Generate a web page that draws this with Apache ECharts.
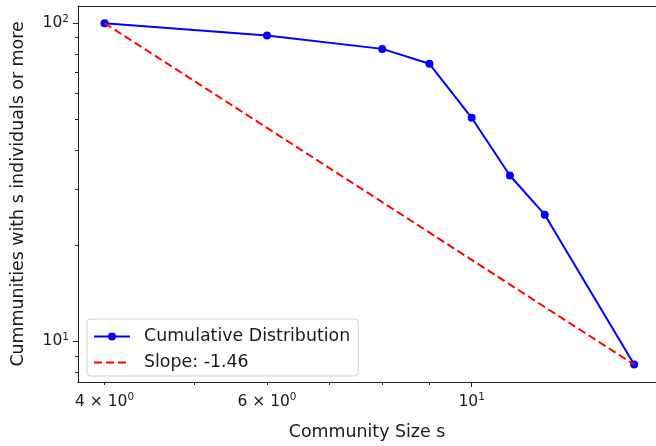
<!DOCTYPE html>
<html><head><meta charset="utf-8">
<script src="https://cdn.jsdelivr.net/npm/echarts@6/dist/echarts.min.js"></script>
<style>html,body{margin:0;padding:0;background:#fff}#c{width:656px;height:446px}</style>
</head><body><div id="c"></div>
<script>
const sizes = [4, 6, 8, 9, 10, 11, 12, 15];
const counts = [100, 91.5, 83, 74.5, 50.4, 33.2, 25, 8.45];
const slopeX = [4, 15];
const slopeY = [100, 8.45];
const xRange = [3.744, 15.84];
const yRange = [7.45, 113.2];
const xLabelTicks = [4, 6, 10];
const xLabelTexts = ['4 × 10{s|0}', '6 × 10{s|0}', '10{s|1}'];
const xMajorTicks = [10];
const xMinorTicks = [4, 5, 6, 7, 8, 9];
const yMajorTicks = [10, 100];
const yLabelTexts = ['10{s|1}', '10{s|2}'];
const yMinorTicks = [8, 9, 20, 30, 40, 50, 60, 70, 80, 90];

const L = Math.log10;
const TXT = '#1a1a1a';
const FONT = 'DejaVu Sans';
const rich = { s: { fontSize: 10.5, fontFamily: FONT, color: TXT, padding: [0, 0, 8, 0] } };
const labelFor = (vals, texts) => v => {
  for (let i = 0; i < vals.length; i++) if (Math.abs(L(vals[i]) - v) < 1e-6) return texts[i];
  return '';
};
const spine = { show: true, lineStyle: { color: '#222', width: 1 } };

const chart = echarts.init(document.getElementById('c'), null, { renderer: 'canvas' });
chart.setOption({
  animation: false,
  backgroundColor: '#fff',
  grid: { left: 78, top: 6, right: 0, bottom: 63 },
  xAxis: [
    {
      type: 'value', min: L(xRange[0]), max: L(xRange[1]), position: 'bottom',
      splitLine: { show: false },
      axisLine: spine,
      axisTick: { show: true, customValues: xMajorTicks.map(L), length: 5, lineStyle: { color: '#222' } },
      axisLabel: { customValues: xLabelTicks.map(L), formatter: labelFor(xLabelTicks, xLabelTexts), fontSize: 15.5, fontFamily: FONT, color: TXT, margin: 10, rich: rich },
      name: 'Community Size s', nameLocation: 'middle', nameGap: 42,
      nameTextStyle: { fontSize: 17.4, fontFamily: FONT, color: TXT }
    },
    {
      type: 'value', min: L(xRange[0]), max: L(xRange[1]), position: 'bottom',
      splitLine: { show: false }, axisLine: { show: false },
      axisTick: { show: true, customValues: xMinorTicks.map(L), length: 3, lineStyle: { color: '#222' } },
      axisLabel: { show: false }
    },
    {
      type: 'value', min: L(xRange[0]), max: L(xRange[1]), position: 'top',
      splitLine: { show: false }, axisLine: spine,
      axisTick: { show: false }, axisLabel: { show: false }
    }
  ],
  yAxis: [
    {
      type: 'value', min: L(yRange[0]), max: L(yRange[1]), position: 'left',
      splitLine: { show: false },
      axisLine: spine,
      axisTick: { show: true, customValues: yMajorTicks.map(L), length: 5, lineStyle: { color: '#222' } },
      axisLabel: { customValues: yMajorTicks.map(L), formatter: labelFor(yMajorTicks, yLabelTexts), fontSize: 15.5, fontFamily: FONT, color: TXT, margin: 9, rich: rich },
      name: 'Cummunities with s individuals or more', nameLocation: 'middle', nameGap: 51,
      nameTextStyle: { fontSize: 17.4, fontFamily: FONT, color: TXT }
    },
    {
      type: 'value', min: L(yRange[0]), max: L(yRange[1]), position: 'left',
      splitLine: { show: false }, axisLine: { show: false },
      axisTick: { show: true, customValues: yMinorTicks.map(L), length: 3, lineStyle: { color: '#222' } },
      axisLabel: { show: false }
    }
  ],
  legend: {
    orient: 'vertical', left: 87, top: 319, padding: [9, 8, 5, 6],
    itemWidth: 36, itemHeight: 10, itemGap: 9,
    backgroundColor: '#fff', borderColor: '#d0d0d0', borderWidth: 1, borderRadius: 4,
    textStyle: { fontSize: 17.4, fontFamily: FONT, color: TXT, padding: [0, 0, 0, 9] },
    data: [
      { name: 'Cumulative Distribution' },
      { name: 'Slope: -1.46', itemStyle: { color: 'rgba(0,0,0,0)', borderWidth: 0, opacity: 0 } }
    ]
  },
  series: [
    {
      name: 'Cumulative Distribution', type: 'line',
      data: sizes.map((x, i) => [L(x), L(counts[i])]),
      symbol: 'circle', symbolSize: 8,
      lineStyle: { color: '#0000ff', width: 2 }, itemStyle: { color: '#0000ff' },
      z: 3
    },
    {
      name: 'Slope: -1.46', type: 'line',
      data: slopeX.map((x, i) => [L(x), L(slopeY[i])]),
      symbol: 'none',
      lineStyle: { color: '#ff0000', width: 2, type: [8, 4] }, itemStyle: { color: '#ff0000' },
      z: 4
    }
  ]
});
</script></body></html>
